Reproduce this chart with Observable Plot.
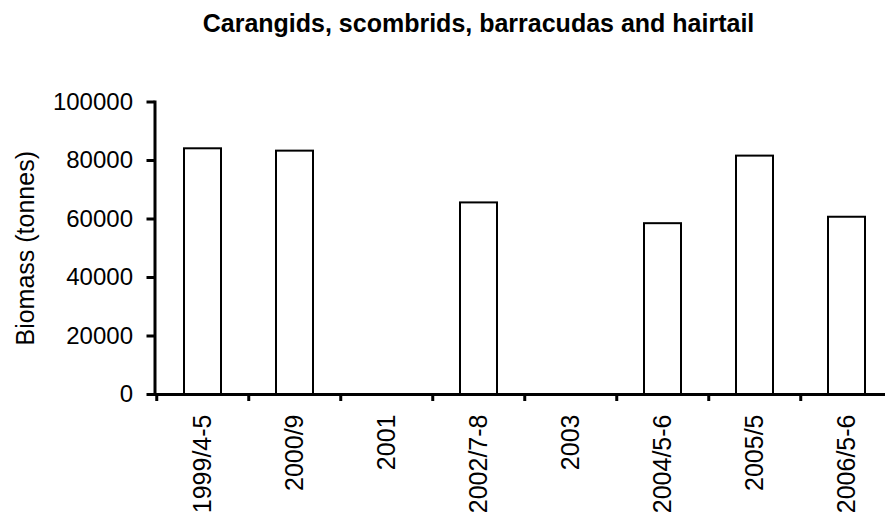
<!DOCTYPE html>
<html>
<head>
<meta charset="utf-8">
<script src="https://cdn.jsdelivr.net/npm/d3@7"></script>
<script src="https://cdn.jsdelivr.net/npm/@observablehq/plot@0.6"></script>
<style>
  html, body { margin: 0; padding: 0; background: white; overflow: hidden; }
  #wrap { width: 885px; height: 516px; overflow: hidden; position: relative; background: white; }
  #title { height: 48px; box-sizing: border-box; padding-top: 11px; padding-left: 72px;
           font: bold 25px/25px "Liberation Sans", Arial, sans-serif; text-align: center; color: black; white-space: nowrap; }
</style>
</head>
<body>
<div id="wrap">
  <div id="title"></div>
  <div id="chart"></div>
</div>
<script>
const chartTitle = "Carangids, scombrids, barracudas and hairtail";
const yLabel = "Biomass (tonnes)";
const categories = ["1999/4-5", "2000/9", "2001", "2002/7-8", "2003", "2004/5-6", "2005/5", "2006/5-6"];
const biomass = [84000, 83200, null, 65500, null, 58400, 81500, 60600];
const yTicks = [0, 20000, 40000, 60000, 80000, 100000];

document.getElementById("title").textContent = chartTitle;

const data = categories.map((c, i) => ({category: c, biomass: biomass[i]}));

const chart = Plot.plot({
  width: 894,
  height: 468,
  marginTop: 53.5,
  marginBottom: 122,
  marginLeft: 154.5,
  marginRight: 0,
  style: {fontFamily: "'Liberation Sans', Arial, sans-serif", color: "black", background: "white", maxWidth: "none", overflow: "visible"},
  x: {type: "band", domain: categories, paddingInner: 0.6, paddingOuter: 0.3, align: 0.5},
  y: {domain: [0, 100000]},
  marks: [
    Plot.barY(data.filter(d => d.biomass != null), {x: "category", y: "biomass", fill: "white", stroke: "black", strokeWidth: 2}),
    Plot.ruleY([0], {strokeWidth: 3}),
    Plot.frame({anchor: "left", strokeWidth: 3}),
    Plot.ruleX(categories, {x: d => d, y1: () => 0, y2: () => 0, dx: -46.25, insetBottom: -7, strokeWidth: 3}),
    Plot.axisY({ticks: yTicks, tickSize: 8, tickPadding: 14, strokeWidth: 3, fontSize: 24, tickFormat: d => String(d), label: null}),
    Plot.axisX({tickSize: 0, tickPadding: 20, tickRotate: -90, fontSize: 25, label: null}),
    Plot.text([yLabel], {frameAnchor: "left", textAnchor: "middle", rotate: -90, dx: -129.5, fontSize: 25})
  ]
});
document.getElementById("chart").appendChild(chart);
</script>
</body>
</html>
